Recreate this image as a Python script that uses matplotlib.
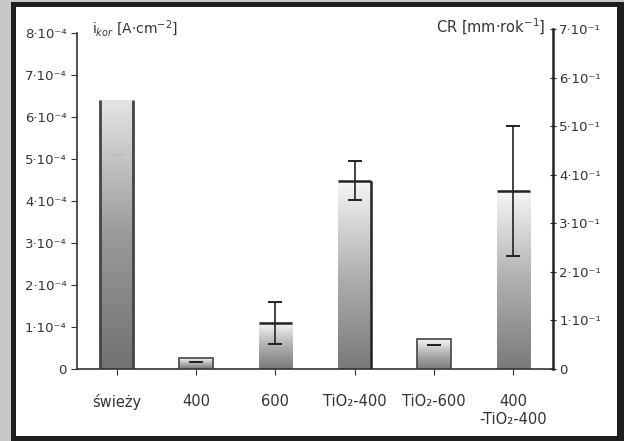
import matplotlib
matplotlib.use("Agg")
import matplotlib.pyplot as plt
from matplotlib.patches import Rectangle
from matplotlib.colors import LinearSegmentedColormap
import numpy as np

# values
categories = ["świeży", "400", "600", "TiO₂-400", "TiO₂-600", "400\n-TiO₂-400"]
i_kor = [6.4e-4, 0.26e-4, 1.1e-4, 4.48e-4, 0.71e-4, 4.24e-4]      # A/cm2, left axis
cr = [0.44, 0.014, 0.095, 0.388, 0.049, 0.367]                     # mm/rok, right axis
cr_err = [0.0, 0.0, 0.043, 0.041, 0.0, 0.134]

left_ticks = [0, 1e-4, 2e-4, 3e-4, 4e-4, 5e-4, 6e-4, 7e-4, 8e-4]
left_labels = ["0"] + [f"{k}·10⁻⁴" for k in range(1, 9)]
right_ticks = [0, 0.1, 0.2, 0.3, 0.4, 0.5, 0.6, 0.7]
right_labels = ["0"] + [f"{k}·10⁻¹" for k in range(1, 8)]

txt = "#333333"
plt.rcParams['font.family'] = ['DejaVu Sans']

fig = plt.figure(figsize=(6.24, 4.41), dpi=100)
fig.patch.set_facecolor("#c8c8c8")
W, H = 624.0, 441.0
# black frame + white inner area
fig.patches.append(Rectangle((11 / W, 0), 1 - 11 / W, 1 - 2 / H, transform=fig.transFigure,
                             facecolor="#1e1e1e", edgecolor="none", zorder=-2))
fig.patches.append(Rectangle((16 / W, 5 / H), (617 - 16) / W, (436 - 7) / H, transform=fig.transFigure,
                             facecolor="white", edgecolor="none", zorder=-1))

ax = fig.add_axes([77 / W, 1 - 369 / H, (553 - 77) / W, (369 - 29) / H])
ax.set_facecolor("none")
ax2 = ax.twinx()

x = np.arange(len(categories))
w = 0.42
cmap = LinearSegmentedColormap.from_list("g", ["#7a7a7a", "#b0b0b0", "#f6f6f6"])
cmap0 = LinearSegmentedColormap.from_list("g0", ["#727272", "#9a9a9a", "#e4e4e4"])
grad = np.linspace(0, 1, 200)[:, None]

# gradient bars for i_kor
for i, v in enumerate(i_kor):
    rect = Rectangle((x[i] - w / 2, 0), w, v, facecolor="none", edgecolor="none")
    ax.add_patch(rect)
    im = ax.imshow(grad, extent=[x[i] - w / 2, x[i] + w / 2, 0, v], origin="lower",
                   aspect="auto", cmap=cmap0 if i == 0 else cmap, zorder=1)
    im.set_clip_path(rect)
    if i == 0:
        ax.vlines([x[i] - w / 2, x[i] + w / 2], 0, v, color="#444444", lw=2, zorder=2)
    if i in (1, 4):
        ax.add_patch(Rectangle((x[i] - w / 2, 0), w, v, facecolor="none",
                               edgecolor="#444444", lw=1.2, zorder=3))

ax.set_xlim(-0.5, len(categories) - 0.5)
ax.set_ylim(0, (369 - 29) / 42 * 1e-4)

# CR tops and error bars on right axis
for i, v in enumerate(cr):
    if i in (2, 3, 5):
        ax2.hlines(v, x[i] - w / 2, x[i] + w / 2, color="#222222", lw=1.8, zorder=3)
    if i == 3:
        ax2.vlines(x[i] + w / 2, 0, v, color="#222222", lw=1.8, zorder=3)
    col = "#bdbdbd" if i == 0 else "#222222"
    ax2.errorbar(x[i], v, yerr=cr_err[i], fmt="none", ecolor=col, elinewidth=1.2,
                 capsize=5, capthick=1.4, zorder=4)
ax2.set_ylim(0, 0.7)

# axes styling
for a in (ax, ax2):
    a.spines["top"].set_visible(False)
ax.spines["right"].set_visible(False)
ax2.spines["left"].set_visible(False)
ax2.spines["bottom"].set_visible(False)
ax.spines["left"].set_bounds(0, 8e-4)
for s in ("left", "bottom"):
    ax.spines[s].set_color("#333333")
    ax.spines[s].set_linewidth(1.2)
ax2.spines["right"].set_color("#222222")
ax2.spines["right"].set_linewidth(1.8)

ax.set_yticks(left_ticks)
ax.set_yticklabels(left_labels)
ax2.set_yticks(right_ticks)
ax2.set_yticklabels(right_labels)
ax.set_xticks(x)
ax.set_xticklabels(categories, fontsize=10.5, color=txt, linespacing=1.25)
ax.tick_params(axis="y", labelsize=9.5, labelcolor=txt, length=4, color="#333333")
ax2.tick_params(axis="y", labelsize=9.5, labelcolor=txt, length=5, color="#222222",
                direction="inout", pad=2)
ax.tick_params(axis="x", length=4, color="#333333", pad=14)

fig.text(92 / W, 1 - 29 / H, "i$_{kor}$ [A·cm$^{-2}$]", fontsize=10, color=txt,
         ha="left", va="center")
fig.text(546 / W, 1 - 27 / H, "CR [mm·rok$^{-1}$]", fontsize=10.5, color=txt,
         ha="right", va="center")

fig.savefig("out.png", dpi=100, facecolor=fig.get_facecolor())
